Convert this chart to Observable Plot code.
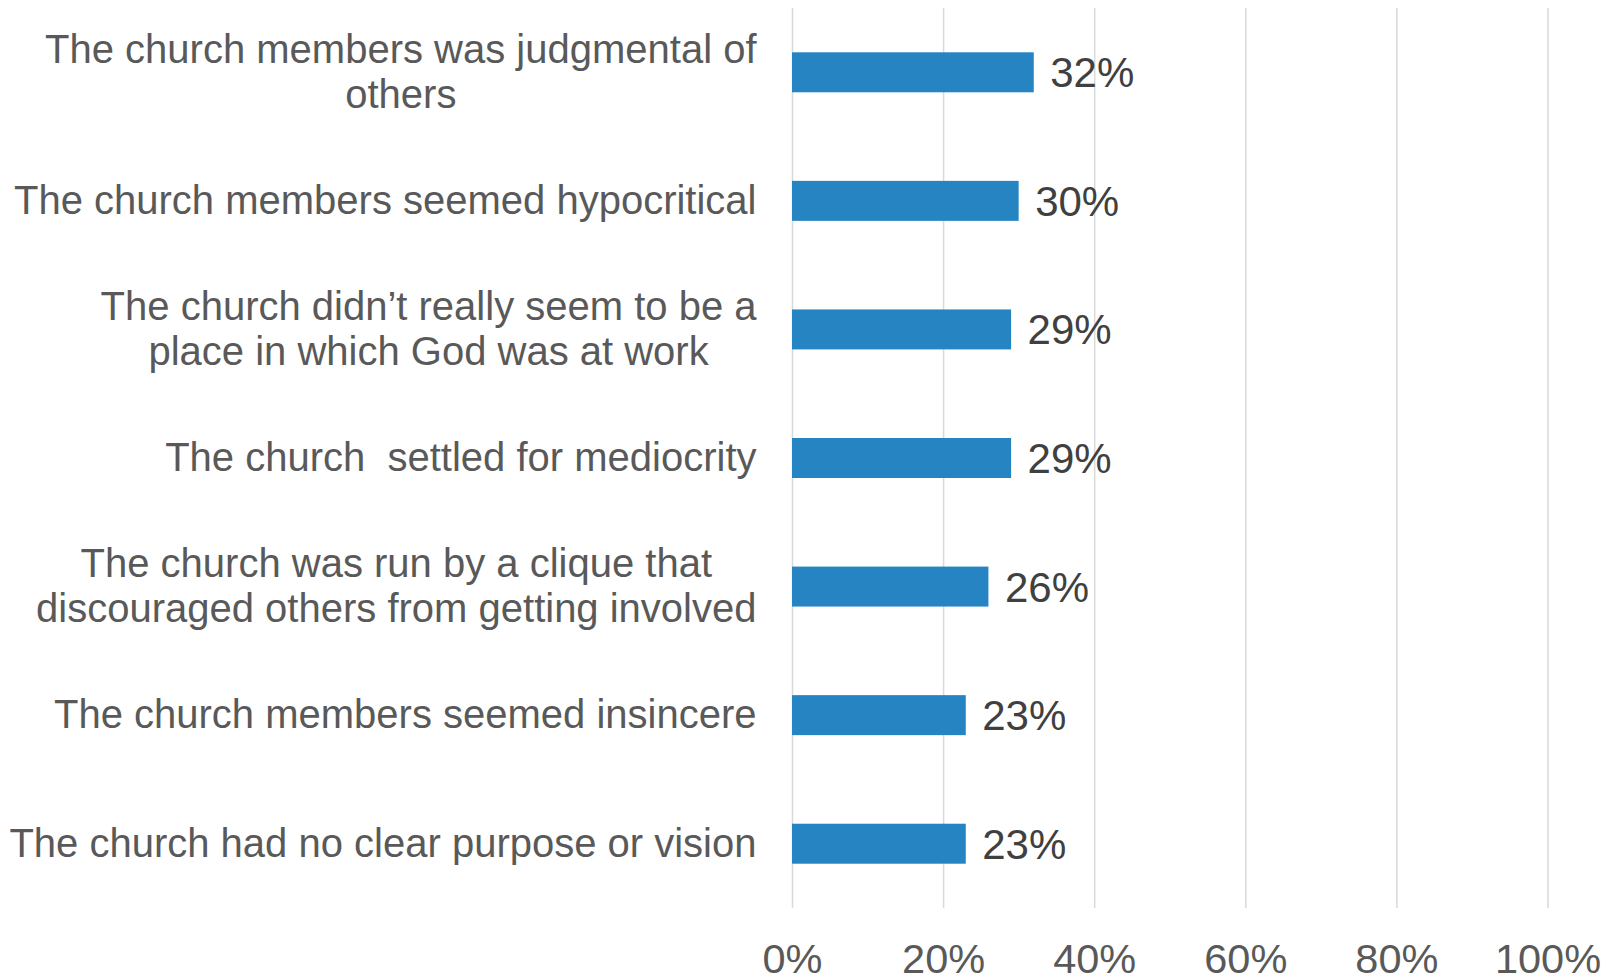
<!DOCTYPE html>
<html>
<head>
<meta charset="utf-8">
<script src="https://cdn.jsdelivr.net/npm/d3@7"></script>
<script src="https://cdn.jsdelivr.net/npm/@observablehq/plot@0.6"></script>
<style>
  html, body { margin: 0; padding: 0; background: #ffffff; }
  #chart svg text { white-space: pre; }
</style>
</head>
<body>
<div id="chart"></div>
<script>
const categories = [
  "The church members was judgmental of\nothers",
  "The church members seemed hypocritical",
  "The church didn’t really seem to be a\nplace in which God was at work",
  "The church  settled for mediocrity",
  "The church was run by a clique that\ndiscouraged others from getting involved",
  "The church members seemed insincere",
  "The church had no clear purpose or vision"
];
const values = [32, 30, 29, 29, 26, 23, 23];
const xTicks = [0, 20, 40, 60, 80, 100];

const data = categories.map((c, i) => ({category: c, value: values[i]}));
const fontFamily = "'Liberation Sans', Arial, Helvetica, sans-serif";

const chart = Plot.plot({
  width: 1613,
  height: 977,
  marginLeft: 792,
  marginRight: 65.5,
  marginTop: 8,
  marginBottom: 69,
  style: {fontFamily, background: "#ffffff", overflow: "visible"},
  x: {domain: [0, 100], label: null},
  y: {domain: categories, paddingInner: 0.689, paddingOuter: 0.3445, round: false, label: null},
  marks: [
    Plot.gridX(xTicks, {stroke: "#d9d9d9", strokeOpacity: 1, strokeWidth: 1.5}),
    Plot.barX(data, {x: "value", y: "category", fill: "#2584c1"}),
    Plot.text(data, {
      x: "value", y: "category", text: d => d.value + "%",
      textAnchor: "start", dx: 16, dy: 1, fontSize: 42, fill: "#404040"
    }),
    Plot.axisX(xTicks, {
      tickSize: 0, tickPadding: 35, fontSize: 41.5, fill: "#595959",
      tickFormat: d => d + "%", label: null
    }),
    Plot.axisY({
      tickSize: 0, tickPadding: 36, fontSize: 40, fill: "#595959",
      lineHeight: 1.13, dy: -2, label: null
    })
  ]
});

document.getElementById("chart").appendChild(chart);

// Center the lines of multi-line category labels within their right-aligned block
chart.querySelectorAll('g[aria-label="y-axis tick label"] text').forEach(t => {
  const spans = t.querySelectorAll("tspan");
  if (spans.length < 2) return;
  let w = 0;
  spans.forEach(s => { w = Math.max(w, s.getComputedTextLength()); });
  t.setAttribute("text-anchor", "middle");
  spans.forEach(s => {
    const x0 = parseFloat(s.getAttribute("x") || "0");
    s.setAttribute("x", x0 - w / 2);
  });
});
</script>
</body>
</html>
